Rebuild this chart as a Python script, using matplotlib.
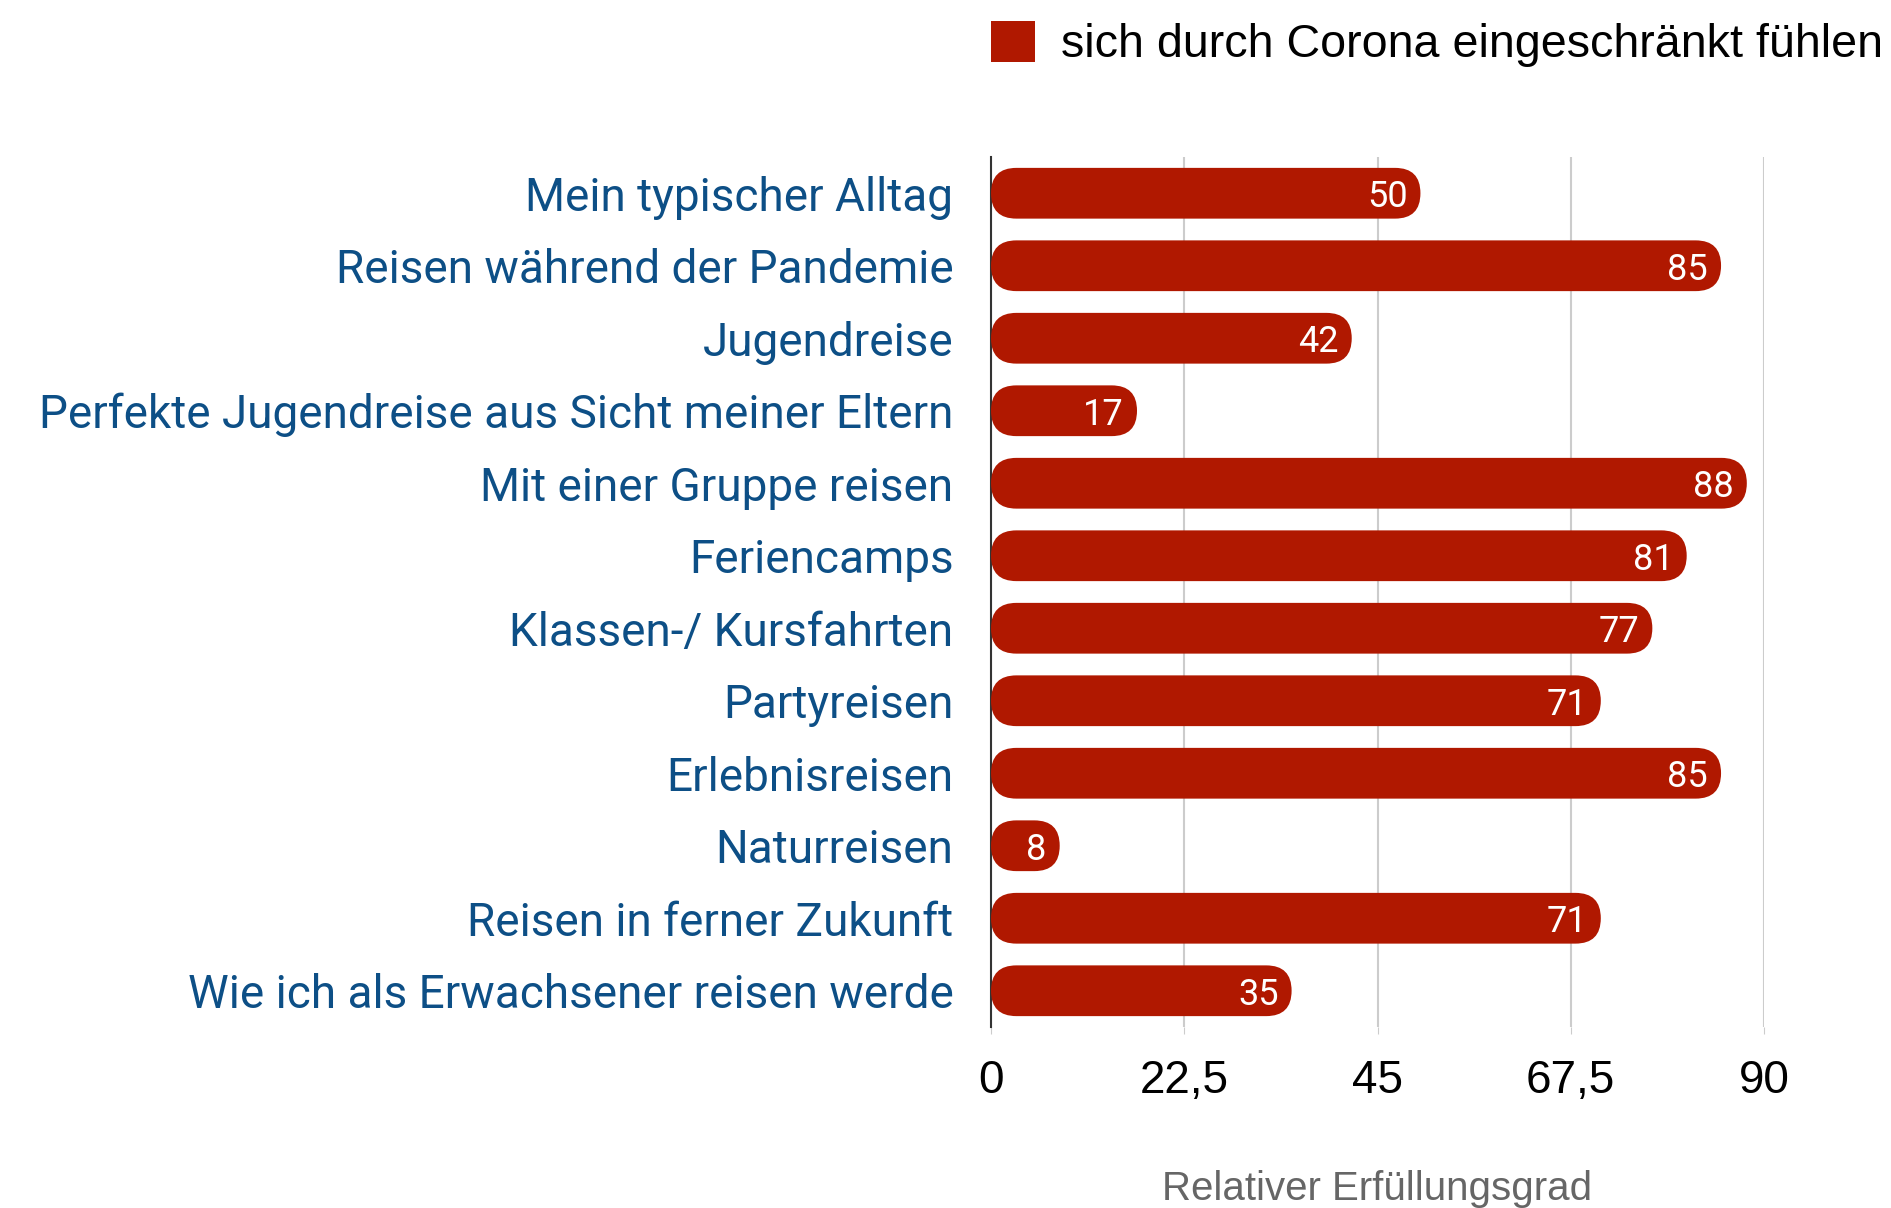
import matplotlib
matplotlib.use("Agg")
import matplotlib.pyplot as plt
from matplotlib.patches import FancyBboxPatch, Patch

# Daten
kategorien = [
    "Mein typischer Alltag",
    "Reisen während der Pandemie",
    "Jugendreise",
    "Perfekte Jugendreise aus Sicht meiner Eltern",
    "Mit einer Gruppe reisen",
    "Feriencamps",
    "Klassen-/ Kursfahrten",
    "Partyreisen",
    "Erlebnisreisen",
    "Naturreisen",
    "Reisen in ferner Zukunft",
    "Wie ich als Erwachsener reisen werde",
]
werte = [50, 85, 42, 17, 88, 81, 77, 71, 85, 8, 71, 35]
xticks = [0, 22.5, 45, 67.5, 90]
xtick_labels = ["0", "22,5", "45", "67,5", "90"]
serie = "sich durch Corona eingeschränkt fühlen"

bar_color = "#b01800"
label_color = "#0d4f86"

W, H = 1891, 1208
fig = plt.figure(figsize=(W / 100, H / 100), dpi=100)
ax = fig.add_axes([991 / W, 181 / H, 773 / W, 870 / H])

ax.set_xlim(0, 90)
ax.set_ylim(len(kategorien) - 0.5, -0.5)

# Seitenverhältnis Daten->Pixel für abgerundete Balken
x_per_px = 90 / 773
y_per_px = len(kategorien) / 870
bar_h = 0.7
radius_px = bar_h / 2 / y_per_px
rs = radius_px * x_per_px
aspect = y_per_px / x_per_px

for i, v in enumerate(werte):
    p = FancyBboxPatch((0, i - bar_h / 2), v, bar_h,
                       boxstyle=f"round,pad=0,rounding_size={rs}",
                       mutation_aspect=aspect,
                       facecolor=bar_color, edgecolor="none", zorder=3)
    ax.add_patch(p)
    ax.annotate(str(v), (v, i), xytext=(-13, 0), textcoords="offset pixels",
                ha="right", va="center_baseline", color="white", fontsize=26,
                family="Roboto", zorder=4)

ax.set_yticks(range(len(kategorien)))
ax.set_yticklabels(kategorien, family="Roboto", fontsize=33, color=label_color)
ax.tick_params(axis="y", length=0, pad=27)

ax.set_xticks(xticks)
ax.set_xticklabels(xtick_labels, family="Liberation Sans", fontsize=33, color="black")
ax.tick_params(axis="x", length=5, color="#cccccc", pad=18)

ax.grid(axis="x", color="#cccccc", linewidth=1.5, zorder=0)
for s in ["top", "right", "bottom"]:
    ax.spines[s].set_visible(False)
ax.spines["left"].set_color("#333333")
ax.spines["left"].set_linewidth(1.5)
ax.spines["left"].set_zorder(2)

ax.set_xlabel("Relativer Erfüllungsgrad", family="Liberation Sans", fontsize=29,
              color="#666666", labelpad=48)

fig.legend(handles=[Patch(facecolor=bar_color, label=serie)],
           loc="center left", bbox_to_anchor=(991 / W, 1 - 44 / H),
           frameon=False, borderpad=0, borderaxespad=0,
           handlelength=0.95, handleheight=1.0, handletextpad=0.55,
           prop={"family": "Liberation Sans", "size": 33.6})

fig.savefig("out.png", dpi=100)
